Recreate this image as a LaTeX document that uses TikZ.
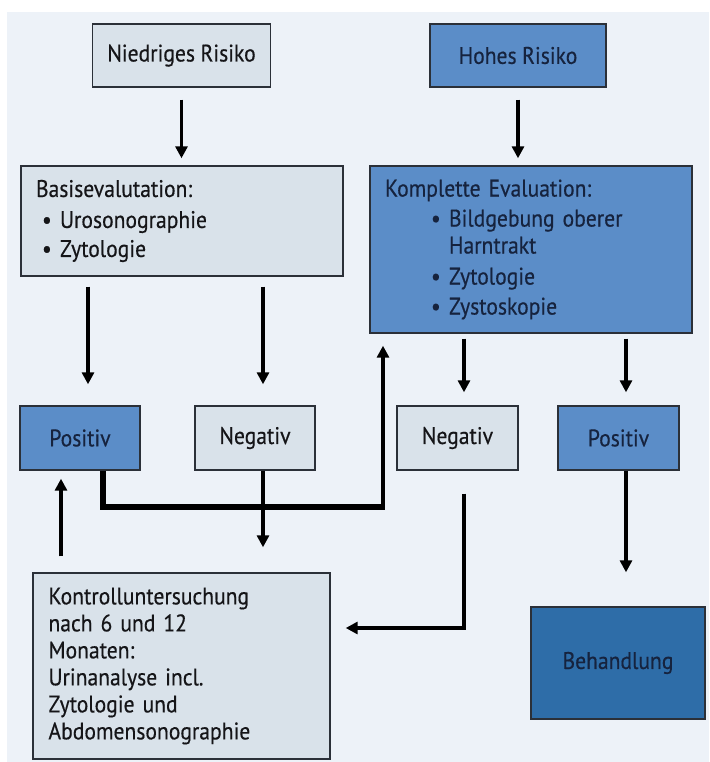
\documentclass[tikz,border=0pt]{standalone}
\usepackage{fontspec}
\setmainfont[FakeStretch=0.9, FakeBold=0.4]{PT Sans}
\usetikzlibrary{arrows.meta,calc}
\definecolor{bgc}{HTML}{EDF2F8}
\definecolor{lightbox}{HTML}{D9E2EA}
\definecolor{midblue}{HTML}{5B8DC8}
\definecolor{darkblue}{HTML}{2E6DA8}
\definecolor{edgec}{HTML}{2B3038}
\definecolor{txtc}{HTML}{151518}
\definecolor{navytxt}{HTML}{16233E}
\newcommand{\boxfont}{\fontsize{24}{27}\selectfont\spaceskip 5.5pt plus 1pt minus 1pt\relax}
\tikzset{
  box/.style={draw=edgec, line width=1.4pt, inner xsep=15pt, inner ysep=0pt,
    font=\boxfont, text=txtc},
  lbox/.style={box, fill=lightbox},
  bbox/.style={box, fill=midblue, text=navytxt},
  dbox/.style={box, fill=darkblue, text=navytxt},
  arr/.style={line width=3.6pt, -{Triangle[length=12pt,width=12pt]}},
  thickline/.style={line width=6.5pt},
}
\newcommand{\bul}[1]{\hspace*{#1}\makebox[18pt][l]{\textbullet}}
\begin{document}
\begin{tikzpicture}[x=1pt,y=-1pt]
\useasboundingbox (0,0) rectangle (709,762);
\fill[bgc] (7,12) rectangle (709,762);

\node[lbox, minimum width=177pt, minimum height=63pt] (nr) at (181.5,55.5) {Niedriges Risiko};
\node[bbox, minimum width=176pt, minimum height=63pt] (hr) at (518,55.5) {Hohes Risiko};

\node[lbox, minimum width=322pt, minimum height=110pt, text width=292pt, align=left] (be) at (182,221)
  {Basisevalutation:\\[4pt]
   \bul{6pt}Urosonographie\\[2pt]
   \bul{6pt}Zytologie};

\node[bbox, minimum width=322pt, minimum height=167pt, text width=292pt, align=left] (ke) at (531,249.5)
  {Komplette Evaluation:\\[3pt]
   \bul{46pt}Bildgebung oberer\\
   \hspace*{64pt}Harntrakt\\[4pt]
   \bul{46pt}Zytologie\\[3pt]
   \bul{46pt}Zystoskopie};

\node[bbox, minimum width=120pt, minimum height=64pt] (pl) at (80,438) {Positiv};
\node[lbox, minimum width=120pt, minimum height=64pt] (nl) at (255,438) {Negativ};
\node[lbox, minimum width=121pt, minimum height=64pt] (ng) at (457.5,438) {Negativ};
\node[bbox, minimum width=121pt, minimum height=64pt] (pr) at (618.5,438) {Positiv};

\node[lbox, minimum width=297pt, minimum height=186pt, text width=266pt, inner xsep=15.5pt, align=left] (ku) at (181.5,666)
  {Kontrolluntersuchung\\
   nach 6 und 12\\
   Monaten:\\
   Urinanalyse incl.\\
   Zytologie und\\
   Abdomensonographie};

\node[dbox, minimum width=174pt, minimum height=112pt] (bh) at (618,663) {Behandlung};

% arrows
\draw[arr, shorten <=12pt, shorten >=7pt] (nr.south) -- (be.north -| nr.south);
\draw[arr, shorten <=12pt, shorten >=7pt] (hr.south) -- (ke.north -| hr.south);

\draw[arr, shorten <=10pt, shorten >=21pt] ([xshift=-94pt]be.south) -- ([xshift=8pt]pl.north);
\draw[arr, shorten <=10pt, shorten >=21pt] ([xshift=81pt]be.south) -- ([xshift=8pt]nl.north);

\draw[arr, shorten <=5pt, shorten >=13pt] ([xshift=-67pt]ke.south) -- ([xshift=6.5pt]ng.north);
\draw[arr, shorten <=5pt, shorten >=13pt] ([xshift=95pt]ke.south) -- ([xshift=7.5pt]pr.north);

% thick connector Positiv -> Komplette Evaluation
\coordinate (corner) at (383,507);
\draw[thickline] ([xshift=23pt]pl.south) |- ([xshift=2pt]corner);
\draw[line width=4.5pt, -{Triangle[length=12pt,width=12pt]}, shorten >=12pt] ([yshift=3.25pt]corner) -- (ke.south -| corner);

\draw[arr, shorten >=25pt] ([xshift=8pt]nl.south) -- ([xshift=81.5pt]ku.north);
\draw[arr, shorten <=16pt, shorten >=8pt] ([xshift=-120.5pt]ku.north) -- ([xshift=-19pt]pl.south);

\draw[line width=3.6pt, -{Triangle[length=12pt,width=12pt]}, shorten <=23pt, shorten >=15pt]
  ([xshift=6.5pt]ng.south) |- ([yshift=38pt]ku.east);

\draw[arr, shorten >=34pt] ([xshift=7.5pt]pr.south) -- ([xshift=8pt]bh.north);
\end{tikzpicture}
\end{document}
